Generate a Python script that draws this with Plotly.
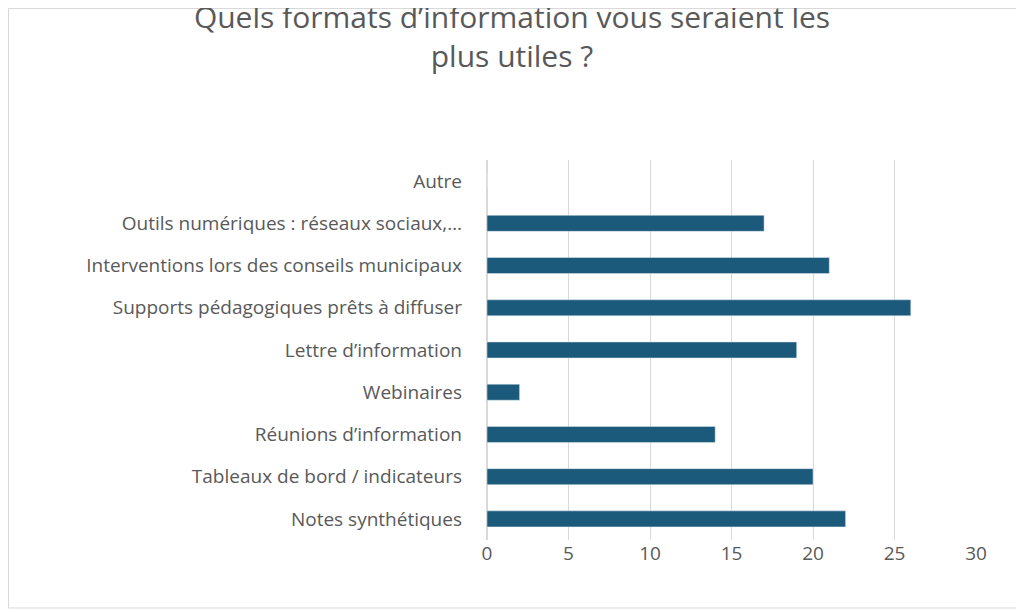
import plotly.graph_objects as go

# Data
categories = [
    "Notes synthétiques",
    "Tableaux de bord / indicateurs",
    "Réunions d’information",
    "Webinaires",
    "Lettre d’information",
    "Supports pédagogiques prêts à diffuser",
    "Interventions lors des conseils municipaux",
    "Outils numériques : réseaux sociaux,…",
    "Autre",
]
values = [22, 20, 14, 2, 19, 26, 21, 17, 0]
x_ticks = [0, 5, 10, 15, 20, 25, 30]

# page has an 8px body margin, so figure pixels are page pixels minus 8
W, H = 1024, 610
L, R, T, B = 479, 56, 152, 78
pw, ph = W - L - R, H - T - B


def px_x(p):
    return (p - L) / pw


def px_y(p):
    return (H - B - p) / ph


fig = go.Figure(
    go.Bar(
        x=values,
        y=categories,
        orientation="h",
        marker_color="#1b5a7a",
        width=0.38,
        hoverinfo="x+y",
    )
)

fig.update_layout(
    width=W,
    height=H,
    margin=dict(l=L, r=R, t=T, b=B),
    paper_bgcolor="white",
    plot_bgcolor="white",
    font=dict(family="Open Sans, Lato, sans-serif", size=19, color="#595959"),
    title=dict(
        text="Quels formats d’information vous seraient les<br>plus utiles ?",
        x=px_x(504),
        xanchor="center",
        xref="paper",
        y=1 - 20 / H,
        yanchor="top",
        font=dict(size=30, color="#595959"),
    ),
    showlegend=False,
    shapes=[
        dict(
            type="rect", xref="paper", yref="paper",
            x0=px_x(0.5), x1=px_x(1014),
            y0=px_y(600), y1=px_y(0.5),
            line=dict(color="#d9d9d9", width=1),
        )
    ],
)
fig.update_xaxes(
    range=[0, 30],
    tickvals=x_ticks,
    showgrid=True,
    gridcolor="#d9d9d9",
    gridwidth=1,
    zeroline=True,
    zerolinecolor="#d9d9d9",
    ticks="",
    tickfont=dict(size=19),
    fixedrange=True,
)
fig.update_yaxes(
    categoryorder="array",
    categoryarray=categories,
    range=[-0.5, 8.5],
    ticks="",
    ticklabelstandoff=24,
    tickfont=dict(size=19),
    fixedrange=True,
)

fig.write_html("out.html")
